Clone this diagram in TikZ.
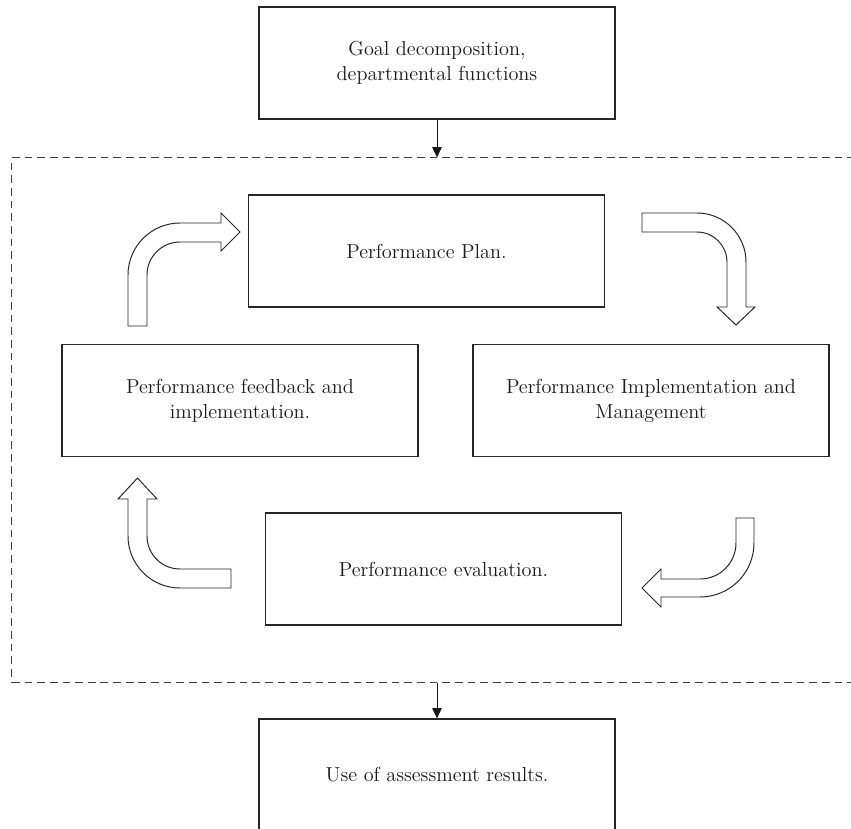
\documentclass[tikz,border=0pt]{standalone}
\usepackage{tikz}
\usetikzlibrary{arrows.meta,positioning,calc}

\begin{document}
\begin{tikzpicture}[
  x=0.025cm, y=0.025cm,
  stagebox/.style={
    draw=black!85, line width=0.8pt, minimum width=8.9cm,
    minimum height=2.8cm, align=center, inner sep=0pt,
    font=\fontsize{14.4}{17.8}\selectfont, text=black!90
  },
  frame/.style={draw=black!75, line width=0.7pt, dash pattern=on 5.5pt off 3.5pt},
  flow/.style={-{Triangle[length=2.6mm,width=2.4mm]}, draw=black!90, line width=0.7pt},
  bent/.style={draw=black!85, line width=0.7pt, fill=white},
]
\useasboundingbox (0,0) rectangle (851,-829);
\clip (0,0) rectangle (851,-829);

% dashed cycle frame (runs off to the right)
\node[frame, minimum width=21.7cm, minimum height=13.1cm] (cycle) at (446,-420) {};

% stages
\node[stagebox] (goal) at (437,-63) {Goal decomposition,\\departmental functions};
\node[stagebox] (plan) at (426.5,-251) {Performance Plan.};
\node[stagebox] (feedback) at (240,-400.5) {Performance feedback and\\implementation.};
\node[stagebox] (manage) at (651,-400.5) {Performance Implementation and\\Management};
\node[stagebox] (evaluation) at (443.5,-569) {Performance evaluation.};
\node[stagebox] (result) at (437,-775) {Use of assessment results.};

% in and out of the frame
\draw[flow] (goal.south) -- (goal.south |- cycle.north);
\draw[flow] (result.north |- cycle.south) -- (result.north);

% bent block arrows of the cycle
\draw[bent] (128,-326) -- (128,-275) arc[start angle=180, end angle=90, radius=52]
  -- (221,-223) -- (221,-213) -- (240,-232) -- (221,-251) -- (221,-242)
  -- (180,-242) arc[start angle=90, end angle=180, radius=33] -- (147,-326) -- cycle;
\draw[bent] (642,-213) -- (697,-213) arc[start angle=90, end angle=0, radius=49]
  -- (746,-307) -- (755,-307) -- (736,-325) -- (717,-307) -- (727,-307)
  -- (727,-262) arc[start angle=0, end angle=90, radius=30] -- (642,-232) -- cycle;
\draw[bent] (736,-518) -- (754,-518) -- (754,-543) arc[start angle=0, end angle=-90, radius=54]
  -- (661,-597) -- (661,-607) -- (642,-588) -- (661,-569) -- (661,-579)
  -- (700,-579) arc[start angle=-90, end angle=0, radius=36] -- cycle;
\draw[bent] (231,-588) -- (180,-588) arc[start angle=-90, end angle=-180, radius=52]
  -- (128,-499) -- (118,-499) -- (137.5,-478) -- (157,-499) -- (147,-499)
  -- (147,-536) arc[start angle=180, end angle=270, radius=33] -- (180,-569) -- (231,-569) -- cycle;
\end{tikzpicture}
\end{document}
